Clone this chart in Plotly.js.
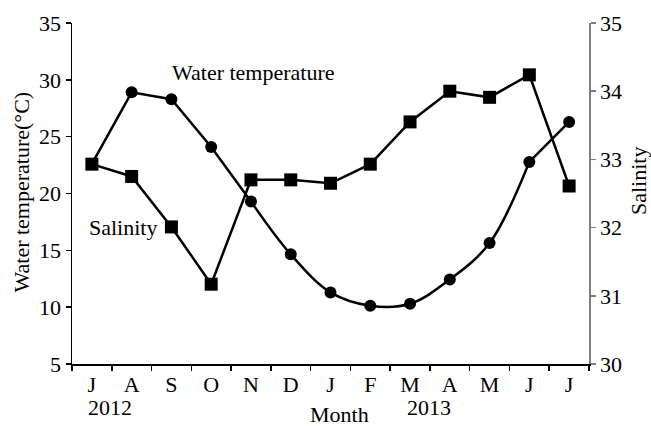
<!DOCTYPE html>
<html>
<head>
<meta charset="utf-8">
<script src="https://cdn.plot.ly/plotly-3.0.1.min.js"></script>
<style>html,body{margin:0;padding:0;background:#fff;}#chart{width:651px;height:426px;}</style>
</head>
<body>
<div id="chart"></div>
<script>
// ---- data ----
const months = ['J','A','S','O','N','D','J','F','M','A','M','J','J'];
const yearLabels = ['2012', '2013'];
const temperature = [22.6, 28.9, 28.3, 24.1, 19.3, 14.65, 11.3, 10.13, 10.3, 12.44, 15.64, 22.78, 26.3];
const salinity = [32.93, 32.75, 32.01, 31.17, 32.70, 32.70, 32.65, 32.93, 33.55, 34.00, 33.91, 34.24, 32.61];

const idx = months.map((_, i) => i);
const FONT = 'Liberation Serif, Times New Roman, serif';
const W = 651, H = 426;
const M = {l: 72, r: 62, t: 23, b: 62};
const pw = W - M.l - M.r, ph = H - M.t - M.b;
const px = x => (x - M.l) / pw;
const py = y => (H - M.b - y) / ph;

const line = {color: '#000', width: 2.5};
const traces = [
  {x: idx.slice(0, 5), y: temperature.slice(0, 5), mode: 'lines', line: line, hoverinfo: 'skip', showlegend: false},
  {x: idx.slice(4, 12), y: temperature.slice(4, 12), mode: 'lines', line: Object.assign({shape: 'spline', smoothing: 1}, line), hoverinfo: 'skip', showlegend: false},
  {x: idx.slice(11), y: temperature.slice(11), mode: 'lines', line: line, hoverinfo: 'skip', showlegend: false},
  {x: idx, y: temperature, mode: 'markers', name: 'Water temperature',
   marker: {symbol: 'circle', size: 12, color: '#000'}, showlegend: false},
  {x: idx, y: salinity, mode: 'lines+markers', name: 'Salinity', yaxis: 'y2',
   line: line, marker: {symbol: 'square', size: 13, color: '#000'}, showlegend: false}
];

const tickfont = {family: FONT, size: 22, color: '#000'};
const layout = {
  width: W, height: H,
  margin: M,
  paper_bgcolor: '#fff', plot_bgcolor: '#fff',
  font: {family: FONT, size: 22, color: '#000'},
  xaxis: {
    range: [-0.5, 12.5], tickmode: 'array', tickvals: idx, ticktext: months,
    ticks: '', 
    showline: true, linecolor: '#000', linewidth: 1.5,
    showgrid: false, zeroline: false, tickfont: tickfont, fixedrange: true,
    minor: {tickmode: 'linear', tick0: -0.5, dtick: 1, ticks: 'outside', ticklen: 5,
            tickcolor: '#000', tickwidth: 1.5, showgrid: false}
  },
  yaxis: {
    range: [5, 35], dtick: 5, tick0: 5, ticks: 'outside', ticklen: 5, tickwidth: 1.5,
    tickcolor: '#000', showline: true, linecolor: '#000', linewidth: 1.5,
    showgrid: false, zeroline: false, tickfont: tickfont, fixedrange: true
  },
  yaxis2: {
    overlaying: 'y', side: 'right', range: [30, 35], dtick: 1, tick0: 30,
    ticks: 'outside', ticklen: 5, tickwidth: 1.5, tickcolor: '#7f7f7f',
    showline: true, linecolor: '#7f7f7f', linewidth: 1.5,
    showgrid: false, zeroline: false, tickfont: tickfont, fixedrange: true
  },
  annotations: [
    {text: 'Water temperature', xref: 'paper', yref: 'paper', x: px(253.5), y: py(72), showarrow: false, xanchor: 'center', yanchor: 'middle', font: {size: 22}},
    {text: 'Salinity', xref: 'paper', yref: 'paper', x: px(122.5), y: py(227), showarrow: false, xanchor: 'center', yanchor: 'middle', font: {size: 22}},
    {text: yearLabels[0], xref: 'paper', yref: 'paper', x: px(110), y: py(408), showarrow: false, xanchor: 'center', yanchor: 'middle', font: {size: 22}},
    {text: yearLabels[1], xref: 'paper', yref: 'paper', x: px(428.5), y: py(408), showarrow: false, xanchor: 'center', yanchor: 'middle', font: {size: 22}},
    {text: 'Month', xref: 'paper', yref: 'paper', x: px(339), y: py(414), showarrow: false, xanchor: 'center', yanchor: 'middle', font: {size: 22}},
    {text: 'Water temperature(°C)', xref: 'paper', yref: 'paper', x: px(21), y: py(192.5), textangle: -90, showarrow: false, xanchor: 'center', yanchor: 'middle', font: {size: 22}},
    {text: 'Salinity', xref: 'paper', yref: 'paper', x: px(638), y: py(181), textangle: -90, showarrow: false, xanchor: 'center', yanchor: 'middle', font: {size: 22}}
  ]
};

Plotly.newPlot('chart', traces, layout, {displayModeBar: false, staticPlot: true});
</script>
</body>
</html>
